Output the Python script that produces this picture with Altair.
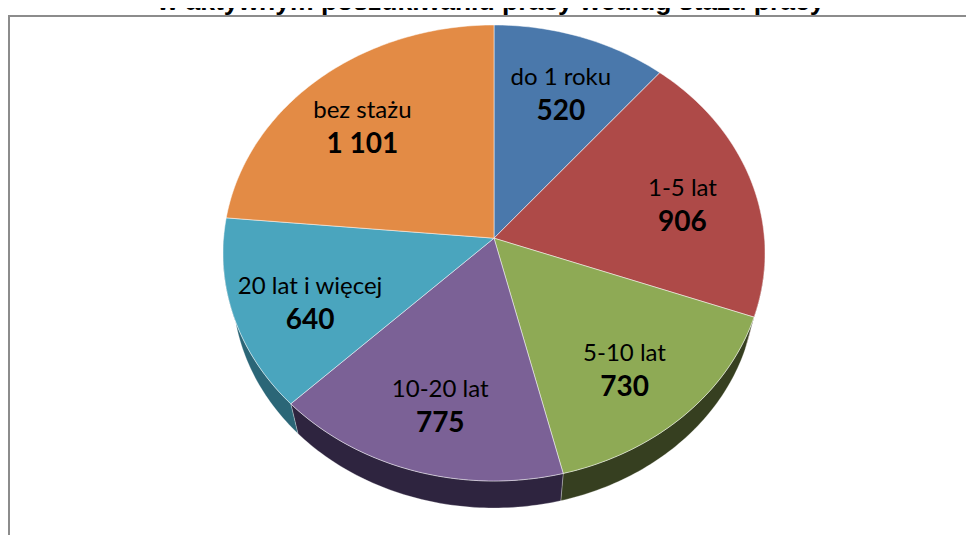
import math
import altair as alt
import pandas as pd

# ---- data ----
categories = ["do 1 roku", "1-5 lat", "5-10 lat", "10-20 lat", "20 lat i więcej", "bez stażu"]
values = [520, 906, 730, 775, 640, 1101]
top_colors = ["#4a78ab", "#ae4a48", "#8eaa55", "#7b6196", "#4aa5be", "#e38b45"]
side_colors = ["#2b4566", "#6e2c2b", "#363f20", "#2e243f", "#2b6677", "#8a5128"]
title_text = "w aktywnym poszukiwaniu pracy według stażu pracy"

# ---- layout (pixels, chart coordinates) ----
W, H = 958, 527
CX, CY = 486, 245
RX, RY = 271, 228
PERSP = 0.065          # perspective shift of the pie centre
SIDE_SCALE = 0.965     # bottom rim is slightly smaller (further away)
SIDE_DROP = 27 / RY + (1 - SIDE_SCALE)
LABEL_R = 0.72

total = sum(values)
starts, ends = [], []
acc = 0
for v in values:
    starts.append(acc / total * 360.0)
    acc += v
    ends.append(acc / total * 360.0)


def persp(x, y):
    k = 1 + PERSP * y
    return x * math.sqrt(1 - PERSP ** 2) / k, (y + PERSP) / k


def arc_points(a, b):
    n = max(2, int(math.ceil(b - a)))
    out = []
    for j in range(n + 1):
        phi = math.radians(a + (b - a) * j / n)
        out.append(persp(math.sin(phi), math.cos(phi)))
    return out


apex = persp(0.0, 0.0)

top_rows = []
for k, cat in enumerate(categories):
    pts = [apex] + arc_points(starts[k], ends[k]) + [apex]
    for i, (x, y) in enumerate(pts):
        top_rows.append({"cat": cat, "i": i, "x": x, "y": y})
top_df = pd.DataFrame(top_rows)

side_rows = []
for k, cat in enumerate(categories):
    a, b = max(starts[k], 90.0), min(ends[k], 270.0)
    if b <= a:
        continue
    arc = arc_points(a, b)
    bottom = [(SIDE_SCALE * x, SIDE_SCALE * y - SIDE_DROP) for (x, y) in reversed(arc)]
    pts = arc + bottom + [arc[0]]
    for i, (x, y) in enumerate(pts):
        side_rows.append({"cat": cat, "i": i, "x": x, "y": y})
side_df = pd.DataFrame(side_rows)

label_rows = []
for k, cat in enumerate(categories):
    mid = math.radians((starts[k] + ends[k]) / 2)
    label_rows.append({
        "cat": cat,
        "val": f"{values[k]:,}".replace(",", " "),
        "x": LABEL_R * math.sin(mid),
        "y": LABEL_R * math.cos(mid),
    })
label_df = pd.DataFrame(label_rows)

xs = alt.Scale(domain=[-1, 1], range=[CX - RX, CX + RX])
ys = alt.Scale(domain=[-1, 1], range=[CY + RY, CY - RY])

sides = alt.Chart(side_df).mark_line(
    stroke="#ffffff", strokeOpacity=0.35, strokeWidth=0.8
).encode(
    x=alt.X("x:Q", scale=xs, axis=None),
    y=alt.Y("y:Q", scale=ys, axis=None),
    order="i:Q",
    detail="cat:N",
    fill=alt.Fill("cat:N", scale=alt.Scale(domain=categories, range=side_colors), legend=None),
)

tops = alt.Chart(top_df).mark_line(
    stroke="#ffffff", strokeOpacity=0.55, strokeWidth=0.9
).encode(
    x=alt.X("x:Q", scale=xs, axis=None),
    y=alt.Y("y:Q", scale=ys, axis=None),
    order="i:Q",
    detail="cat:N",
    fill=alt.Fill("cat:N", scale=alt.Scale(domain=categories, range=top_colors), legend=None),
)

cat_text = alt.Chart(label_df).mark_text(
    font="Lato", fontSize=24, color="#000000", baseline="middle", align="center", dy=-21
).encode(
    x=alt.X("x:Q", scale=xs, axis=None),
    y=alt.Y("y:Q", scale=ys, axis=None),
    text="cat:N",
)

val_text = alt.Chart(label_df).mark_text(
    font="Lato", fontSize=28, fontWeight="bold", color="#000000", baseline="middle", align="center", dy=13
).encode(
    x=alt.X("x:Q", scale=xs, axis=None),
    y=alt.Y("y:Q", scale=ys, axis=None),
    text="val:N",
)

title_df = pd.DataFrame({"t": [title_text]})
title = alt.Chart(title_df).mark_text(
    font="Liberation Sans", fontSize=26.5, fontWeight="bold", color="#000000",
    baseline="alphabetic", align="center"
).encode(x=alt.value(483), y=alt.value(2), text="t:N")

frame_df = pd.DataFrame({"k": [0]})
frame_v = alt.Chart(frame_df).mark_rule(color="#8c8c8c", strokeWidth=2).encode(
    x=alt.value(1), y=alt.value(8), y2=alt.value(H + 20)
)
frame_h = alt.Chart(frame_df).mark_rule(color="#8c8c8c", strokeWidth=2).encode(
    x=alt.value(0), x2=alt.value(W + 20), y=alt.value(8)
)

chart = alt.layer(
    frame_v, frame_h, sides, tops, cat_text, val_text, title
).resolve_scale(fill="independent").properties(
    width=W, height=H, padding=0, autosize=alt.AutoSizeParams(type="none")
).configure_view(stroke=None)

chart.save("out.html", embed_options={"renderer": "svg", "actions": False})
